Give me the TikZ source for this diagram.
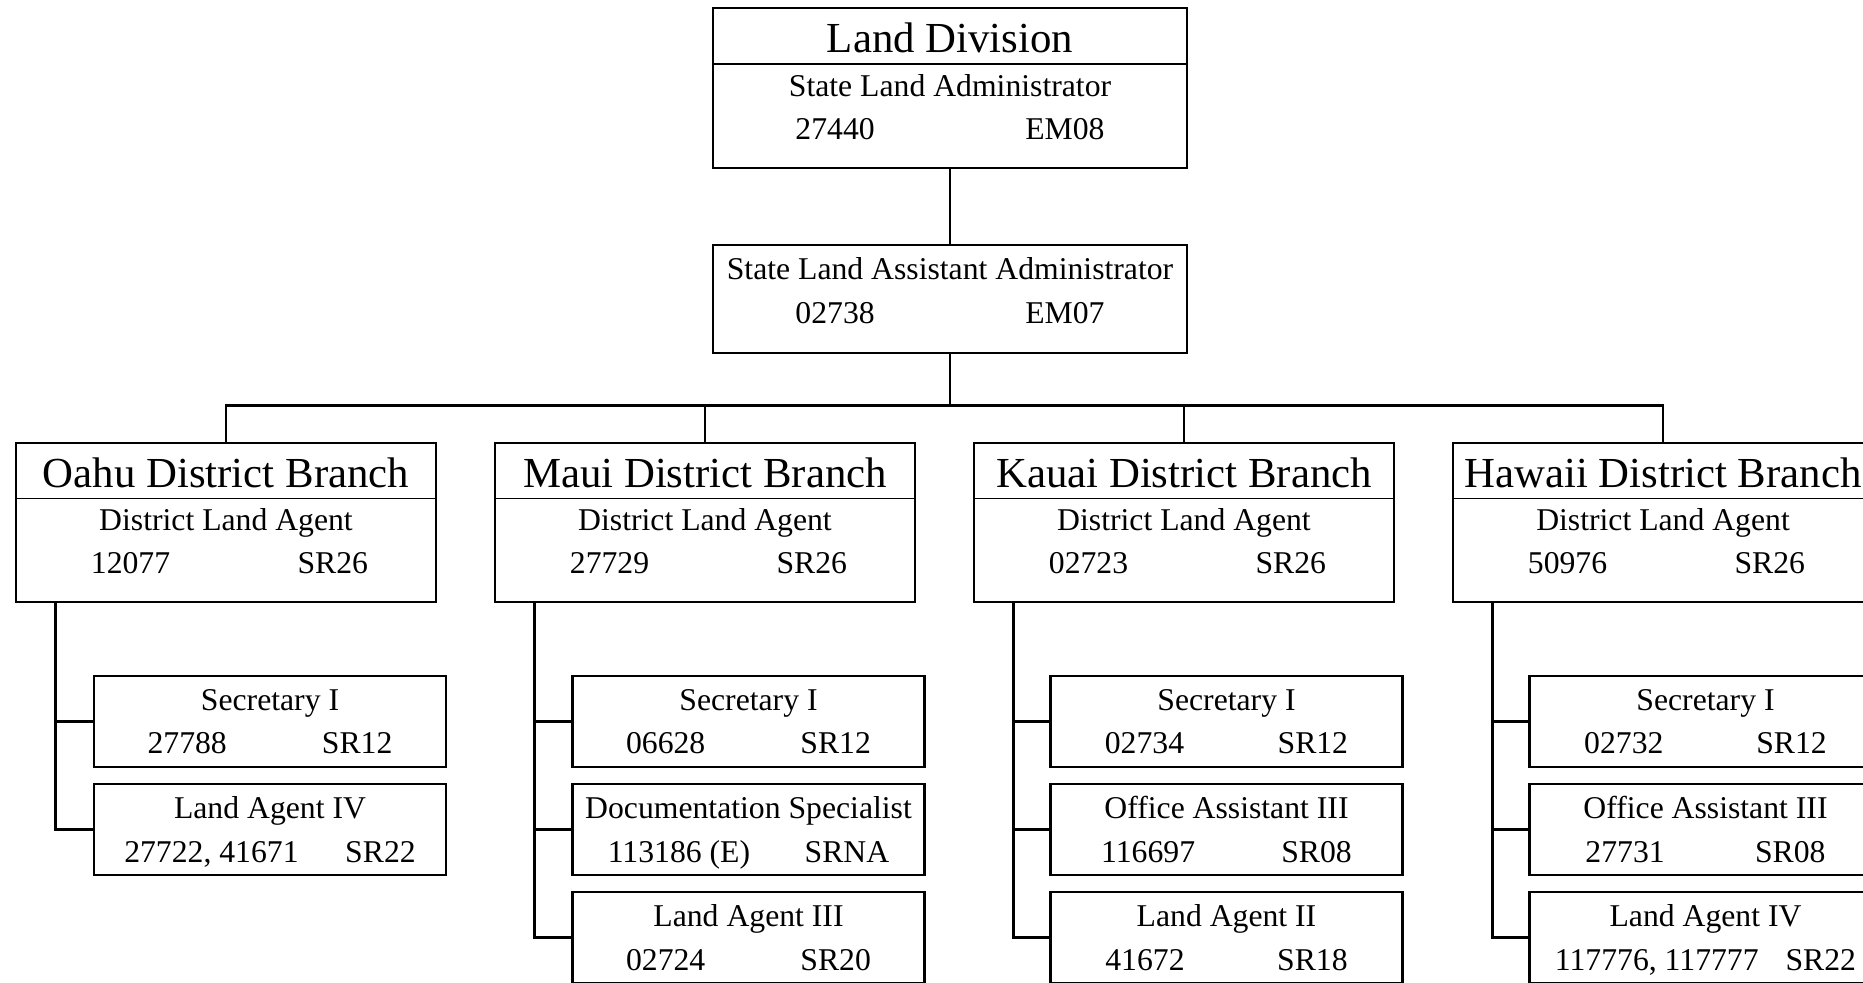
\documentclass[tikz,border=0pt]{standalone}
\usepackage{fontspec}
\setmainfont{Liberation Serif}
\usetikzlibrary{calc,positioning}
\newcommand{\bodyfont}{\fontsize{15.85pt}{21.75pt}\selectfont}
\newcommand{\ttlfont}{\fontsize{21.4pt}{25pt}\selectfont}
\tikzset{
  post/.style={draw, line width=1.15pt, outer sep=0pt, inner sep=0pt},
  head/.style={post, minimum width=237pt, minimum height=80pt},
  unit/.style={post, minimum width=210pt, minimum height=79.75pt},
  staff/.style={post, minimum width=176pt, minimum height=45.5pt, align=center, font=\bodyfont, text depth=0pt},
  ttl/.style={anchor=base, inner sep=0pt, font=\ttlfont},
  txt/.style={anchor=base, inner sep=0pt, font=\bodyfont},
  link/.style={line width=1.15pt},
  rule/.style={line width=0.6pt},
}
\begin{document}
\begin{tikzpicture}[x=0.5pt, y=-0.5pt, node distance=8.5pt]
  \useasboundingbox (0,0) rectangle (1863,982);
  \clip (0,0) rectangle (1863,982);
  % division and assistant
  \node[head] (land) at (950,88) {};
  \node[ttl] (land-ttl) at ($(land.north)+(0,44.5)$) {Land Division};
  \draw[rule] ($(land.north west)+(0,56)$) -- ($(land.north east)+(0,56)$);
  \node[txt] (land-job) at ($(land.north)+(0,88)$) {State Land Administrator};
  \node[txt] (land-pos) at ($(land.north)+(0,131)$) {27440\hspace{4.75em}EM08};
  \node[post, minimum width=237pt, minimum height=54pt] (asst) at (950,299) {};
  \node[txt] (asst-job) at ($(asst.north)+(0,34)$) {State Land Assistant Administrator};
  \node[txt] (asst-pos) at ($(asst.north)+(0,78)$) {02738\hspace{4.75em}EM07};
  \draw[link] (land) -- (asst);
  \coordinate (bus) at (950,405.5);
  % district branches
  \foreach \br/\cx/\isle/\num in {oahu/226/Oahu/12077, maui/705/Maui/27729, kauai/1184/Kauai/02723, hawaii/1663/Hawaii/50976}{
    \node[unit] (\br) at (\cx,522.5) {};
    \node[ttl] (\br-ttl) at ($(\br.north)+(0,44.5)$) {\isle\ District Branch};
    \draw[rule] ($(\br.north west)+(0,56)$) -- ($(\br.north east)+(0,56)$);
    \node[txt] (\br-job) at ($(\br.north)+(0,88)$) {District Land Agent};
    \node[txt] (\br-pos) at ($(\br.north)+(3.5,131)$) {\num\hspace{4.02em}SR26};
    \draw[link] (asst) -- (bus) -| (\br);
  }
  % staff
  \node[staff] (oahu1) at (270,721.5) {Secretary I\\27788\hspace{3em}SR12};
  \node[staff, below=of oahu1] (oahu2) {Land Agent IV\\27722, 41671\hspace{1.47em}SR22};
  \node[staff] (maui1) at (748.5,721.5) {Secretary I\\06628\hspace{3em}SR12};
  \node[staff, below=of maui1] (maui2) {Documentation Specialist\\113186 (E)\hspace{1.72em}SRNA};
  \node[staff, below=of maui2] (maui3) {Land Agent III\\02724\hspace{3em}SR20};
  \node[staff] (kauai1) at (1226.5,721.5) {Secretary I\\02734\hspace{2.95em}SR12};
  \node[staff, below=of kauai1] (kauai2) {Office Assistant III\\116697\hspace{2.72em}SR08};
  \node[staff, below=of kauai2] (kauai3) {Land Agent II\\41672\hspace{2.92em}SR18};
  \node[staff] (hawaii1) at (1705.5,721.5) {Secretary I\\02732\hspace{2.93em}SR12};
  \node[staff, below=of hawaii1] (hawaii2) {Office Assistant III\\27731\hspace{2.85em}SR08};
  \node[staff, below=of hawaii2] (hawaii3) {Land Agent IV\\117776, 117777\hspace{0.85em}SR22};
  \foreach \br/\s in {oahu/oahu1,oahu/oahu2,maui/maui1,maui/maui2,maui/maui3,kauai/kauai1,kauai/kauai2,kauai/kauai3,hawaii/hawaii1,hawaii/hawaii2,hawaii/hawaii3}
    \draw[link] ($(\br.south west)+(39.5,0)$) |- (\s);
\end{tikzpicture}
\end{document}
